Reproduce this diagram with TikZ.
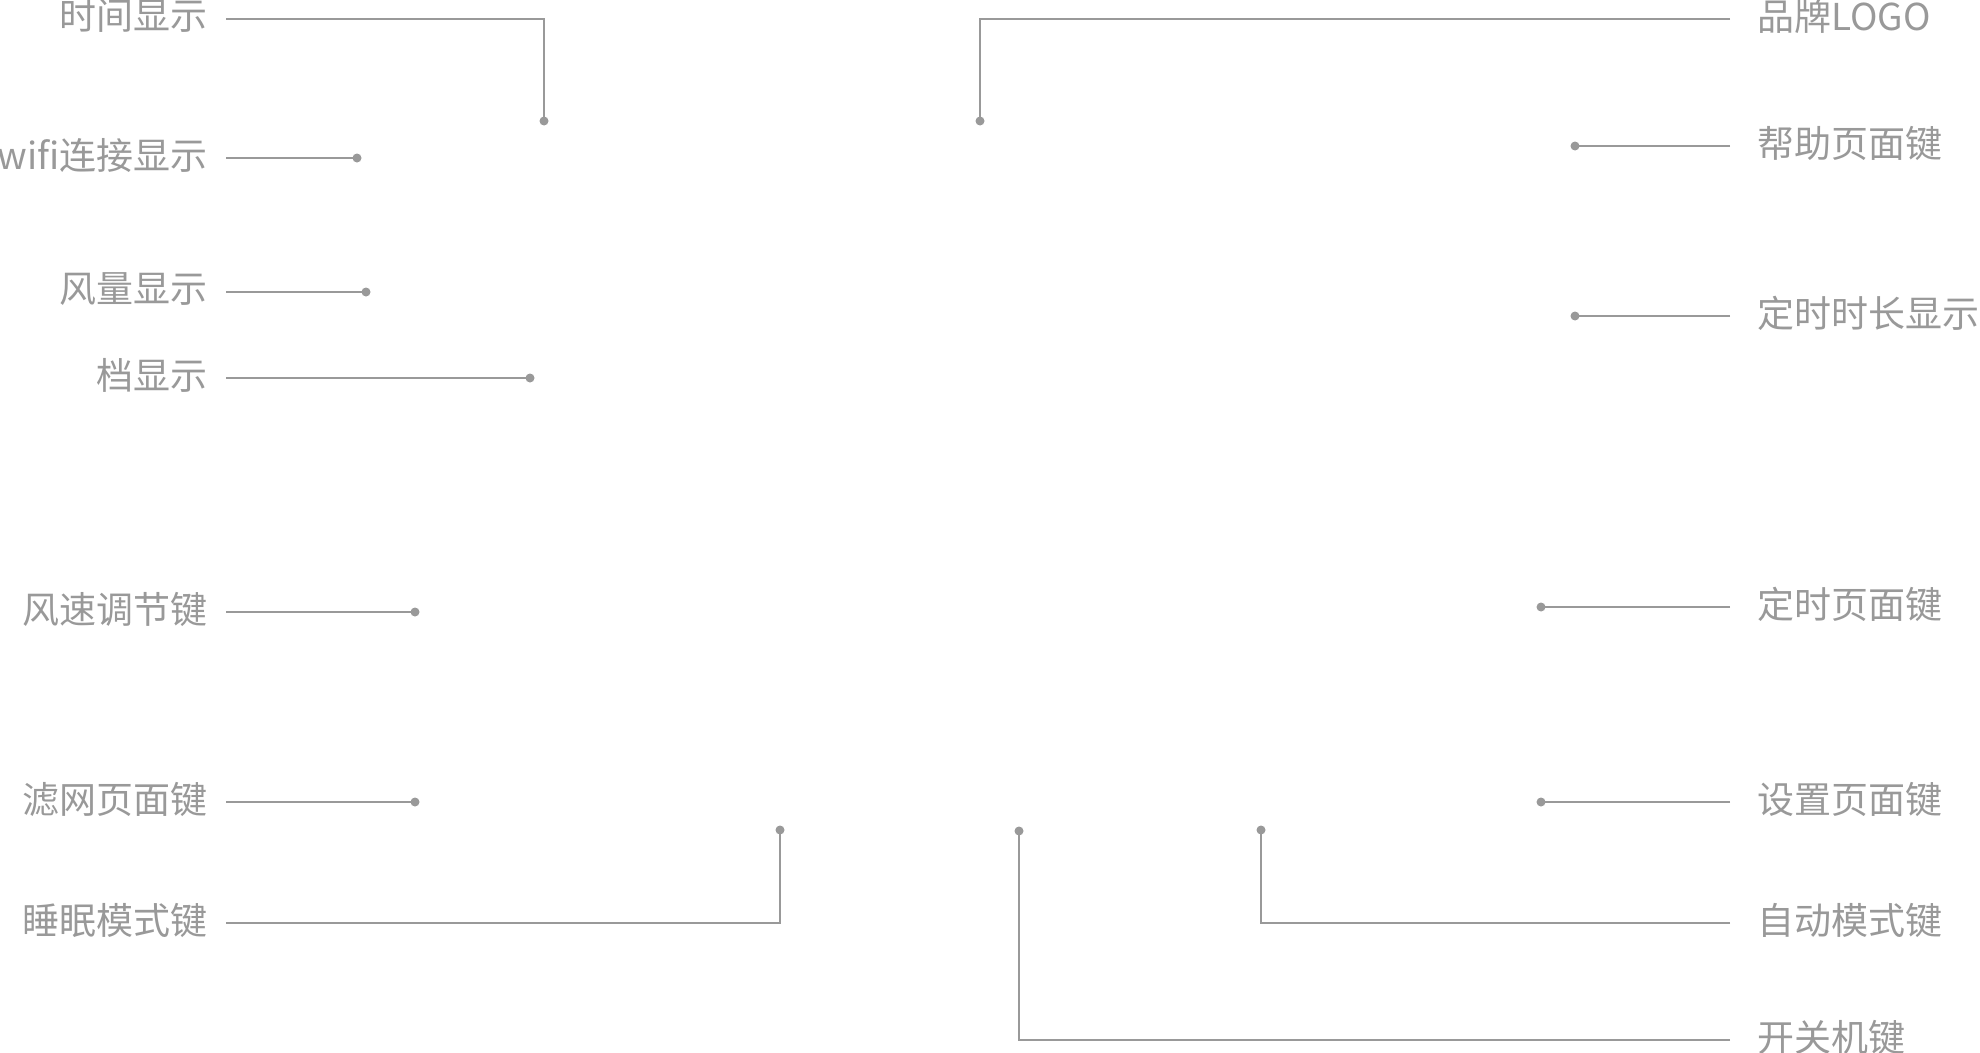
\documentclass[tikz,border=0pt]{standalone}
\usepackage{fontspec}
\setmainfont{Noto Sans CJK SC}
\definecolor{lg}{HTML}{999999}
\begin{document}
\begin{tikzpicture}[x=1pt,y=-1pt,
  lbl/.style={inner sep=0pt,text=lg,font=\fontsize{37}{41}\selectfont},
  lft/.style={lbl,anchor=east},
  rgt/.style={lbl,anchor=west},
  dot/.style={circle,fill=lg,inner sep=0pt,minimum size=9pt},
  conn/.style={draw=lg,line width=2.2pt}]
\useasboundingbox (0,0) rectangle (1980,1052);
% left labels
\node[lft] (t1) at (208,16) {时间显示};
\node[lft] (t2) at (208,155) {wifi连接显示};
\node[lft] (t3) at (208,289) {风量显示};
\node[lft] (t4) at (208,375) {档显示};
\node[lft] (t5) at (208,609) {风速调节键};
\node[lft] (t6) at (208,799) {滤网页面键};
\node[lft] (t7) at (208,920) {睡眠模式键};
% right labels
\node[rgt] (r1) at (1757,16) {品牌LOGO};
\node[rgt] (r2) at (1757,143) {帮助页面键};
\node[rgt] (r3) at (1757,313) {定时时长显示};
\node[rgt] (r4) at (1757,604) {定时页面键};
\node[rgt] (r5) at (1757,799) {设置页面键};
\node[rgt] (r6) at (1757,920) {自动模式键};
\node[rgt] (r7) at (1757,1037) {开关机键};
% line starts
\coordinate (s1) at (226,19);
\coordinate (s2) at (226,158);
\coordinate (s3) at (226,292);
\coordinate (s4) at (226,378);
\coordinate (s5) at (226,612);
\coordinate (s6) at (226,802);
\coordinate (s7) at (226,923);
\coordinate (e1) at (1730,19);
\coordinate (e2) at (1730,146);
\coordinate (e3) at (1730,316);
\coordinate (e4) at (1730,607);
\coordinate (e5) at (1730,802);
\coordinate (e6) at (1730,923);
\coordinate (e7) at (1730,1040);
% dots
\node[dot] (p1) at (544,121) {};
\node[dot] (p2) at (357,158) {};
\node[dot] (p3) at (366,292) {};
\node[dot] (p4) at (530,378) {};
\node[dot] (p5) at (415,612) {};
\node[dot] (p6) at (415,802) {};
\node[dot] (p7) at (780,830) {};
\node[dot] (q1) at (980,121) {};
\node[dot] (q2) at (1575,146) {};
\node[dot] (q3) at (1575,316) {};
\node[dot] (q4) at (1541,607) {};
\node[dot] (q5) at (1541,802) {};
\node[dot] (q6) at (1261,830) {};
\node[dot] (q7) at (1019,831) {};
% connectors
\draw[conn] (s1) -| (p1.center);
\draw[conn] (s2) -- (p2.center);
\draw[conn] (s3) -- (p3.center);
\draw[conn] (s4) -- (p4.center);
\draw[conn] (s5) -- (p5.center);
\draw[conn] (s6) -- (p6.center);
\draw[conn] (s7) -| (p7.center);
\draw[conn] (e1) -| (q1.center);
\draw[conn] (e2) -- (q2.center);
\draw[conn] (e3) -- (q3.center);
\draw[conn] (e4) -- (q4.center);
\draw[conn] (e5) -- (q5.center);
\draw[conn] (e6) -| (q6.center);
\draw[conn] (e7) -| (q7.center);
\end{tikzpicture}
\end{document}
